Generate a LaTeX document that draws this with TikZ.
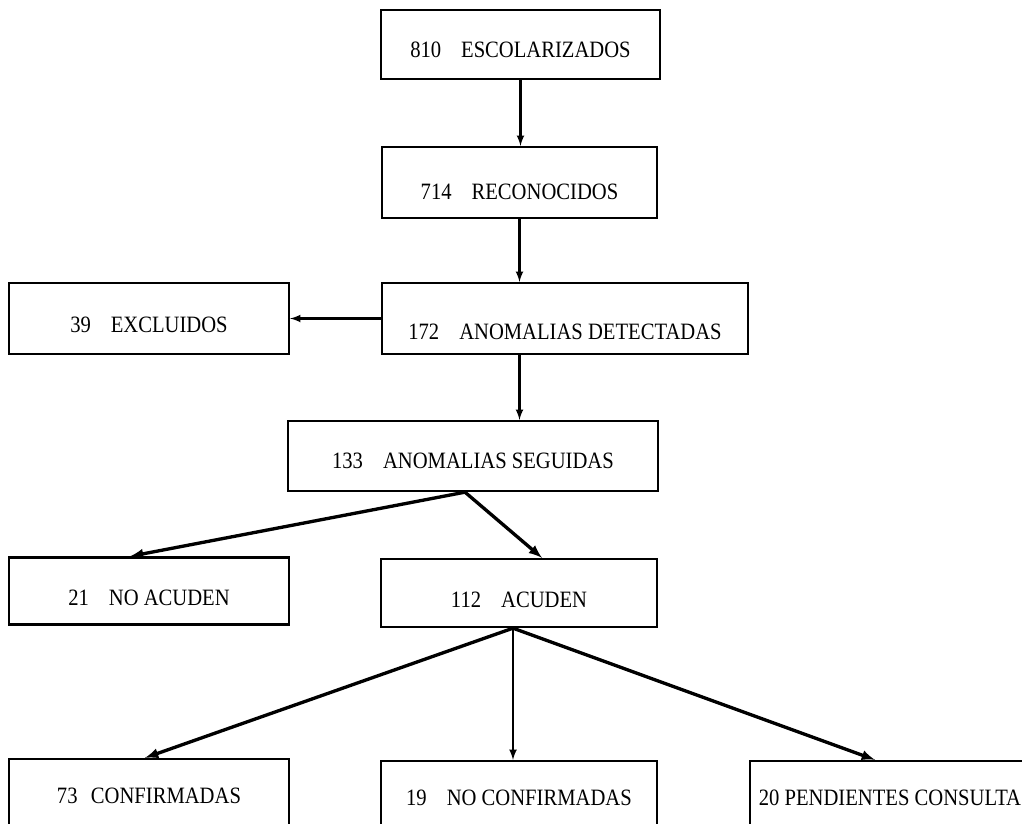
\documentclass[tikz,border=0pt]{standalone}
\usepackage{fontspec}
\setmainfont[FakeStretch=0.88]{Liberation Serif}
\usetikzlibrary{arrows}
\usetikzlibrary{positioning, calc}

\newcommand{\hueco}{\hspace{6mm}}

\begin{document}
\begin{tikzpicture}[x=0.3mm, y=-0.3mm,
    caja/.style={draw, line width=0.7mm, inner sep=0pt,
      font=\fontsize{20}{22}\selectfont, text height=#1, text depth=0mm,
      minimum width=84mm, minimum height=21mm},
    caja/.default=8mm,
    flecha/.style={-latex, line width=0.7mm},
    diag/.style={-latex, line width=1mm}]

      \path[use as bounding box, clip] (0, 0) rectangle (1022, 824);

      % cajas
      \node[caja=8mm, minimum width=83.7mm, minimum height=20.7mm] (b810) at (520.5, 44.5) {810\hueco ESCOLARIZADOS};
      \node[caja=10.4mm, minimum width=82.5mm, minimum height=21.3mm] (b714) at (519.5, 182.5) {714\hueco RECONOCIDOS};
      \node[caja=12.4mm, minimum width=109.8mm, minimum height=21.3mm] (b172) at (565, 318.5) {172\hueco ANOMALIAS DETECTADAS};
      \node[caja=8.3mm, minimum height=21.3mm] (b39) at (149, 318.5) {39\hueco EXCLUIDOS};
      \node[caja=7.7mm, minimum width=111mm] (b133) at (473, 456) {133\hueco ANOMALIAS SEGUIDAS};
      \node[caja=8.6mm, minimum height=20.1mm] (b21) at (149, 591) {21\hueco NO ACUDEN};
      \node[caja=8.9mm, minimum width=82.8mm, minimum height=20.4mm] (b112) at (519, 593) {112\hueco ACUDEN};
      \node[caja=5.9mm] (b73) at (149, 794) {73\hspace{4mm}CONFIRMADAS};
      \node[caja=5.6mm, minimum width=82.8mm] (b19) at (519, 796) {19\hueco NO CONFIRMADAS};
      \node[caja=5.6mm] (b20) at (890, 796) {20 PENDIENTES CONSULTA};

      % flechas
      \draw[flecha] (b810.south) -- (b810.south |- b714.north);
      \draw[flecha] (b714.south) -- (b714.south |- b172.north);
      \draw[flecha] (b172.west) -- (b39.east);
      \draw[flecha] (b172.south -| b714.south) -- (b133.north -| b714.south);
      \draw[diag] ([xshift=-2.4mm]b133.south) -- ([xshift=-5.7mm]b21.north);
      \draw[diag] ([xshift=-2.4mm]b133.south) -- ([xshift=6.9mm]b112.north);
      \draw[diag] ([xshift=-1.8mm]b112.south) -- ([xshift=-1.2mm]b73.north);
      \draw[flecha] ([xshift=-1.8mm]b112.south) -- ([xshift=-1.8mm]b19.north);
      \draw[diag] ([xshift=-1.8mm]b112.south) -- ([xshift=-4.5mm]b20.north);

    \end{tikzpicture}
\end{document}
